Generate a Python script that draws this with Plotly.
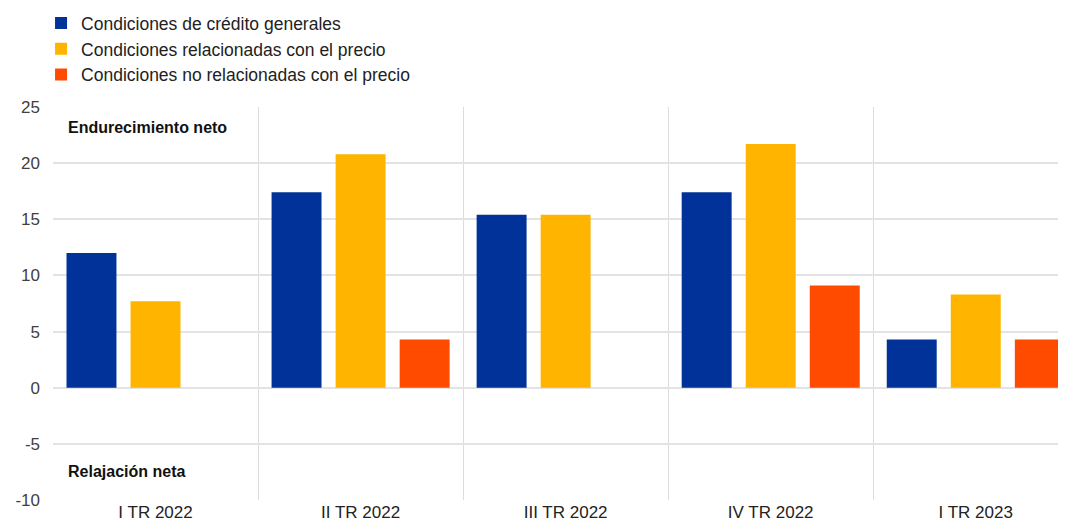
import plotly.graph_objects as go

categories = ["I TR 2022", "II TR 2022", "III TR 2022", "IV TR 2022", "I TR 2023"]
series_names = [
    "Condiciones de crédito generales",
    "Condiciones relacionadas con el precio",
    "Condiciones no relacionadas con el precio",
]
general = [12.0, 17.4, 15.4, 17.4, 4.3]
price = [7.7, 20.8, 15.4, 21.7, 8.3]
non_price = [None, 4.3, None, 9.1, 4.3]
y_ticks = [-10, -5, 0, 5, 10, 15, 20, 25]
y_tick_labels = ["-10", "-5", "0", "5", "10", "15", "20", "25"]
annot_top = "Endurecimiento neto"
annot_bottom = "Relajación neta"

colors = ["#003299", "#FFB400", "#FF4B00"]
xs = list(range(len(categories)))

fig = go.Figure()
for name, vals, col in zip(series_names, [general, price, non_price], colors):
    fig.add_trace(go.Bar(x=xs, y=vals, name=name, marker=dict(color=col, line=dict(width=0))))

fig.update_layout(
    width=1066, height=527,
    margin=dict(l=45, r=8, t=99, b=35, autoexpand=False),
    paper_bgcolor="white", plot_bgcolor="white",
    font=dict(family="Liberation Sans, Arial, sans-serif", size=17, color="#222222"),
    barmode="group", bargap=0.063, bargroupgap=0.22,
    showlegend=True,
    legend=dict(x=0.031, xref="container", y=1.259, yref="paper", yanchor="top",
                xanchor="left", font=dict(size=17.5, color="#222222"),
                bgcolor="rgba(0,0,0,0)", tracegroupgap=0, itemclick=False),
    xaxis=dict(
        range=[-0.5, 4.44], tickvals=xs, ticktext=categories, showgrid=False,
        zeroline=False, showline=False, ticks="",
        tickfont=dict(size=17, color="#222222"),
        minor=dict(tickvals=[0.5, 1.5, 2.5, 3.5], showgrid=True, gridcolor="#dcdcdc", gridwidth=1, ticks=""),
    ),
    yaxis=dict(
        range=[-10, 25], tickvals=y_ticks, ticktext=y_tick_labels, showgrid=True,
        gridcolor="#e3e3e3", gridwidth=1.5,
        zeroline=False, showline=False, ticks="", tickfont=dict(size=17, color="#404040"),
        ticklabelstandoff=12,
    ),
    annotations=[
        dict(text="<b>" + annot_top + "</b>", x=-0.5, xref="x", xshift=13, y=23.2, yref="y",
             xanchor="left", yanchor="middle", showarrow=False, font=dict(size=16, color="#111111")),
        dict(text="<b>" + annot_bottom + "</b>", x=-0.5, xref="x", xshift=13, y=-7.5, yref="y",
             xanchor="left", yanchor="middle", showarrow=False, font=dict(size=16, color="#111111")),
    ],
)

fig.write_html("out.html")
